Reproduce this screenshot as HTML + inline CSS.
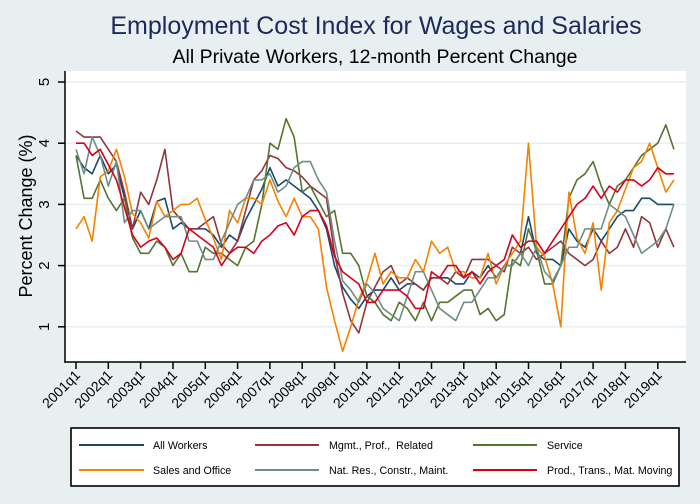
<!DOCTYPE html>
<html><head><meta charset="utf-8"><style>
html,body{margin:0;padding:0;background:#e8eff1;}
svg{display:block;font-family:"Liberation Sans",Arial,sans-serif;}
</style></head><body>
<svg width="700" height="504" viewBox="0 0 700 504" xmlns="http://www.w3.org/2000/svg">
<rect x="0" y="0" width="700" height="504" fill="#e8eff1"/>
<rect x="65" y="71" width="621" height="291" fill="#ffffff"/>
<g stroke="#e6eef0" stroke-width="1.4">
<line x1="65" y1="82" x2="686" y2="82"/>
<line x1="65" y1="143.2" x2="686" y2="143.2"/>
<line x1="65" y1="204.4" x2="686" y2="204.4"/>
<line x1="65" y1="265.6" x2="686" y2="265.6"/>
<line x1="65" y1="326.8" x2="686" y2="326.8"/>
</g>
<text x="376" y="34" font-size="25" fill="#1b2a5b" text-anchor="middle">Employment Cost Index for Wages and Salaries</text>
<text x="375" y="63" font-size="19.5" fill="#000" text-anchor="middle">All Private Workers, 12-month Percent Change</text>
<g fill="none" stroke-width="1.6" stroke-linejoin="round" transform="matrix(8.08 0 0 -61.2 76 388)">
<polyline vector-effect="non-scaling-stroke" stroke="#1a476f" points="0,3.8 1,3.6 2,3.5 3,3.8 4,3.5 5,3.65 6,3.1 7,2.6 8,2.9 9,2.6 10,3.05 11,3.1 12,2.6 13,2.7 14,2.6 15,2.6 16,2.6 17,2.5 18,2.3 19,2.5 20,2.4 21,2.75 22,3.0 23,3.25 24,3.6 25,3.3 26,3.4 27,3.3 28,3.2 29,3.1 30,2.9 31,2.6 32,2.0 33,1.65 34,1.45 35,1.3 36,1.5 37,1.6 38,1.6 39,1.8 40,1.6 41,1.7 42,1.7 43,1.6 44,1.8 45,1.8 46,1.8 47,1.7 48,1.7 49,1.9 50,1.8 51,2.0 52,1.8 53,2.0 54,2.0 55,2.2 56,2.8 57,2.2 58,2.1 59,2.1 60,2.0 61,2.6 62,2.4 63,2.3 64,2.6 65,2.4 66,2.6 67,2.8 68,2.9 69,2.9 70,3.1 71,3.1 72,3.0 73,3.0 74,3.0"/>
<polyline vector-effect="non-scaling-stroke" stroke="#90353b" points="0,4.2 1,4.1 2,4.1 3,4.1 4,3.9 5,3.7 6,3.2 7,2.6 8,3.2 9,3.0 10,3.4 11,3.9 12,2.9 13,2.75 14,2.6 15,2.6 16,2.7 17,2.8 18,2.35 19,2.2 20,2.4 21,2.9 22,3.4 23,3.55 24,3.8 25,3.75 26,3.6 27,3.55 28,3.45 29,3.3 30,3.2 31,3.1 32,2.2 33,1.55 34,1.1 35,0.9 36,1.4 37,1.65 38,1.9 39,2.0 40,1.7 41,1.8 42,1.7 43,1.6 44,1.8 45,1.8 46,1.7 47,1.9 48,1.8 49,2.1 50,2.1 51,2.1 52,2.0 53,1.9 54,2.3 55,2.2 56,2.3 57,2.1 58,2.2 59,2.3 60,2.4 61,2.2 62,2.1 63,2.0 64,2.1 65,2.4 66,2.2 67,2.3 68,2.6 69,2.3 70,2.8 71,2.7 72,2.3 73,2.6 74,2.3"/>
<polyline vector-effect="non-scaling-stroke" stroke="#55752f" points="0,3.8 1,3.1 2,3.1 3,3.4 4,3.1 5,2.9 6,3.1 7,2.45 8,2.2 9,2.2 10,2.4 11,2.3 12,2.0 13,2.2 14,1.9 15,1.9 16,2.3 17,2.2 18,2.2 19,2.1 20,2.0 21,2.3 22,2.4 23,3.0 24,4.0 25,3.9 26,4.4 27,4.1 28,3.2 29,3.3 30,3.05 31,2.8 32,2.9 33,2.2 34,2.2 35,2.0 36,1.5 37,1.4 38,1.2 39,1.1 40,1.4 41,1.3 42,1.1 43,1.4 44,1.1 45,1.4 46,1.4 47,1.5 48,1.6 49,1.6 50,1.2 51,1.3 52,1.1 53,1.2 54,2.1 55,2.0 56,2.6 57,2.25 58,1.7 59,1.7 60,2.0 61,3.1 62,3.4 63,3.5 64,3.7 65,3.3 66,3.0 67,3.3 68,3.4 69,3.6 70,3.8 71,3.9 72,4.0 73,4.3 74,3.9"/>
<polyline vector-effect="non-scaling-stroke" stroke="#f58200" points="0,2.6 1,2.8 2,2.4 3,3.45 4,3.55 5,3.9 6,3.45 7,2.85 8,2.7 9,2.45 10,3.05 11,2.8 12,2.9 13,3.0 14,3.0 15,3.1 16,2.75 17,2.45 18,2.1 19,2.9 20,2.7 21,3.1 22,3.1 23,3.0 24,3.4 25,3.05 26,2.8 27,3.1 28,2.8 29,2.8 30,2.6 31,1.65 32,1.1 33,0.6 34,1.0 35,1.45 36,1.75 37,2.2 38,1.7 39,1.9 40,1.8 41,1.8 42,2.1 43,1.9 44,2.4 45,2.2 46,2.3 47,1.9 48,1.9 49,1.8 50,1.8 51,2.2 52,1.7 53,2.0 54,2.2 55,2.4 56,4.0 57,2.3 58,2.15 59,1.7 60,1.0 61,3.2 62,2.45 63,2.2 64,2.7 65,1.6 66,2.7 67,2.9 68,3.25 69,3.6 70,3.7 71,4.0 72,3.6 73,3.2 74,3.4"/>
<polyline vector-effect="non-scaling-stroke" stroke="#6e8e84" points="0,3.9 1,3.5 2,4.1 3,3.8 4,3.3 5,3.7 6,2.7 7,2.9 8,2.9 9,2.6 10,2.7 11,2.8 12,2.8 13,2.8 14,2.4 15,2.4 16,2.1 17,2.1 18,2.4 19,2.7 20,3.0 21,3.1 22,3.4 23,3.4 24,3.5 25,3.2 26,3.3 27,3.6 28,3.7 29,3.7 30,3.4 31,3.2 32,2.4 33,1.75 34,1.6 35,1.4 36,1.7 37,1.55 38,1.3 39,1.2 40,1.1 41,1.5 42,1.9 43,1.9 44,1.6 45,1.3 46,1.2 47,1.1 48,1.4 49,1.4 50,1.6 51,1.8 52,1.8 53,2.0 54,2.0 55,2.2 56,2.0 57,2.3 58,1.9 59,1.75 60,2.0 61,2.3 62,2.3 63,2.6 64,2.6 65,2.6 66,3.0 67,2.9 68,2.8 69,2.5 70,2.2 71,2.3 72,2.4 73,2.6 74,3.0"/>
<polyline vector-effect="non-scaling-stroke" stroke="#d7001c" points="0,4.0 1,4.0 2,3.8 3,3.9 4,3.65 5,3.4 6,2.95 7,2.5 8,2.3 9,2.4 10,2.45 11,2.3 12,2.1 13,2.2 14,2.6 15,2.5 16,2.4 17,2.3 18,2.0 19,2.2 20,2.3 21,2.3 22,2.2 23,2.4 24,2.5 25,2.65 26,2.7 27,2.5 28,2.8 29,2.9 30,2.9 31,2.65 32,2.15 33,1.9 34,1.8 35,1.7 36,1.4 37,1.4 38,1.6 39,1.6 40,1.6 41,1.5 42,1.3 43,1.3 44,1.9 45,1.8 46,2.0 47,2.0 48,1.8 49,1.9 50,1.7 51,1.9 52,2.0 53,2.1 54,2.5 55,2.3 56,2.4 57,2.4 58,2.2 59,2.4 60,2.6 61,2.8 62,3.0 63,3.1 64,3.3 65,3.1 66,3.3 67,3.2 68,3.4 69,3.4 70,3.3 71,3.4 72,3.6 73,3.5 74,3.5"/>
</g>
<g stroke="#000" stroke-width="1.5">
<line x1="65" y1="71" x2="65" y2="362.7"/>
<line x1="64.3" y1="362" x2="686" y2="362"/>
<line x1="58" y1="82" x2="65" y2="82"/>
<line x1="58" y1="143.2" x2="65" y2="143.2"/>
<line x1="58" y1="204.4" x2="65" y2="204.4"/>
<line x1="58" y1="265.6" x2="65" y2="265.6"/>
<line x1="58" y1="326.8" x2="65" y2="326.8"/>
</g>
<g stroke="#000" stroke-width="1.5">
<line x1="76" y1="362" x2="76" y2="369"/><line x1="108.3" y1="362" x2="108.3" y2="369"/><line x1="140.6" y1="362" x2="140.6" y2="369"/><line x1="173" y1="362" x2="173" y2="369"/><line x1="205.3" y1="362" x2="205.3" y2="369"/><line x1="237.6" y1="362" x2="237.6" y2="369"/><line x1="269.9" y1="362" x2="269.9" y2="369"/><line x1="302.2" y1="362" x2="302.2" y2="369"/><line x1="334.6" y1="362" x2="334.6" y2="369"/><line x1="366.9" y1="362" x2="366.9" y2="369"/><line x1="399.2" y1="362" x2="399.2" y2="369"/><line x1="431.5" y1="362" x2="431.5" y2="369"/><line x1="463.8" y1="362" x2="463.8" y2="369"/><line x1="496.2" y1="362" x2="496.2" y2="369"/><line x1="528.5" y1="362" x2="528.5" y2="369"/><line x1="560.8" y1="362" x2="560.8" y2="369"/><line x1="593.1" y1="362" x2="593.1" y2="369"/><line x1="625.4" y1="362" x2="625.4" y2="369"/><line x1="657.8" y1="362" x2="657.8" y2="369"/>
</g>
<g font-size="15" fill="#000" text-anchor="middle">
<text transform="translate(49,82) rotate(-90)">5</text>
<text transform="translate(49,143.2) rotate(-90)">4</text>
<text transform="translate(49,204.4) rotate(-90)">3</text>
<text transform="translate(49,265.6) rotate(-90)">2</text>
<text transform="translate(49,326.8) rotate(-90)">1</text>
</g>
<text transform="translate(32,216) rotate(-90)" font-size="18" text-anchor="middle" fill="#000">Percent Change (%)</text>
<g font-size="14" fill="#000" text-anchor="end">
<text transform="translate(81,376) rotate(-45)">2001q1</text>
<text transform="translate(113.3,376) rotate(-45)">2002q1</text>
<text transform="translate(145.6,376) rotate(-45)">2003q1</text>
<text transform="translate(178,376) rotate(-45)">2004q1</text>
<text transform="translate(210.3,376) rotate(-45)">2005q1</text>
<text transform="translate(242.6,376) rotate(-45)">2006q1</text>
<text transform="translate(274.9,376) rotate(-45)">2007q1</text>
<text transform="translate(307.2,376) rotate(-45)">2008q1</text>
<text transform="translate(339.6,376) rotate(-45)">2009q1</text>
<text transform="translate(371.9,376) rotate(-45)">2010q1</text>
<text transform="translate(404.2,376) rotate(-45)">2011q1</text>
<text transform="translate(436.5,376) rotate(-45)">2012q1</text>
<text transform="translate(468.8,376) rotate(-45)">2013q1</text>
<text transform="translate(501.2,376) rotate(-45)">2014q1</text>
<text transform="translate(533.5,376) rotate(-45)">2015q1</text>
<text transform="translate(565.8,376) rotate(-45)">2016q1</text>
<text transform="translate(598.1,376) rotate(-45)">2017q1</text>
<text transform="translate(630.4,376) rotate(-45)">2018q1</text>
<text transform="translate(662.8,376) rotate(-45)">2019q1</text>
</g>
<rect x="71" y="428" width="608" height="58" fill="#fff" stroke="#000" stroke-width="1.6"/>
<g stroke-width="2">
<line x1="79" y1="445" x2="144" y2="445" stroke="#1a476f"/>
<line x1="255" y1="445" x2="319" y2="445" stroke="#90353b"/>
<line x1="473" y1="445" x2="537" y2="445" stroke="#55752f"/>
<line x1="79" y1="470" x2="144" y2="470" stroke="#f58200"/>
<line x1="255" y1="470" x2="319" y2="470" stroke="#6e8e84"/>
<line x1="473" y1="470" x2="537" y2="470" stroke="#d7001c"/>
</g>
<g font-size="10.7" fill="#000">
<text x="153" y="449">All Workers</text>
<text x="329" y="449">Mgmt., Prof.,&#160; Related</text>
<text x="547" y="449">Service</text>
<text x="153" y="474">Sales and Office</text>
<text x="329" y="474">Nat. Res., Constr., Maint.</text>
<text x="547" y="474">Prod., Trans., Mat. Moving</text>
</g>
</svg>
</body></html>
